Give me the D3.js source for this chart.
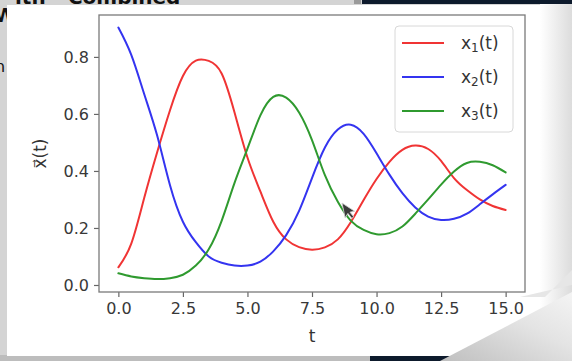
<!DOCTYPE html>
<html><head><meta charset="utf-8">
<script src="https://cdn.jsdelivr.net/npm/d3@7"></script>
<style>html,body{margin:0;padding:0;background:#d3d3d3;}svg{display:block;}</style>
</head><body>
<script>
// ---- data ----
const times = [0,0.5,1,1.5,2,2.5,3,3.5,4,4.5,5,5.5,6,6.5,7,7.5,8,8.5,9,9.5,10,10.5,11,11.5,12,12.5,13,13.5,14,14.5,15];
const x1 = [0.062,0.145,0.305,0.465,0.613,0.733,0.787,0.786,0.742,0.605,0.447,0.328,0.222,0.160,0.133,0.124,0.132,0.160,0.220,0.298,0.372,0.432,0.474,0.489,0.477,0.435,0.375,0.333,0.300,0.277,0.263];
const x2 = [0.903,0.807,0.670,0.525,0.350,0.222,0.150,0.100,0.078,0.068,0.068,0.082,0.118,0.175,0.260,0.375,0.482,0.545,0.562,0.530,0.462,0.387,0.322,0.272,0.240,0.228,0.232,0.250,0.283,0.318,0.351];
const x3 = [0.041,0.030,0.024,0.021,0.024,0.036,0.068,0.125,0.225,0.358,0.478,0.595,0.660,0.657,0.605,0.508,0.385,0.292,0.226,0.193,0.178,0.182,0.205,0.250,0.300,0.352,0.398,0.428,0.432,0.420,0.395];
const seriesNames = ["1","2","3"];
const seriesColors = ["#f03434","#3434f0","#2f9a2f"];
const xTicks = [0,2.5,5,7.5,10,12.5,15];
const yTicks = [0,0.2,0.4,0.6,0.8];
const xLabel = "t";
const yLabel = "x\u20D7(t)";

const W = 572, H = 361;
const svg = d3.select("body").append("svg").attr("width", W).attr("height", H);
const defs = svg.append("defs");

// ---- screenshot surroundings ----
svg.append("rect").attr("width", W).attr("height", H).attr("fill", "#d4d4d4");
svg.append("text").attr("x", 15).attr("y", 4).attr("font-family", "DejaVu Sans").attr("font-weight", "bold")
  .attr("font-size", 20).attr("fill", "#111").text("ith - Combined");
svg.append("text").attr("x", -6).attr("y", 22).attr("font-family", "DejaVu Sans").attr("font-weight", "bold")
  .attr("font-size", 20).attr("fill", "#111").text("W");
svg.append("text").attr("x", -5).attr("y", 72).attr("font-family", "DejaVu Sans")
  .attr("font-size", 16).attr("fill", "#111").text("n");
svg.append("rect").attr("x", 354).attr("y", 0).attr("width", 7).attr("height", 4).attr("fill", "#9a9a9a");
svg.append("rect").attr("x", 362).attr("y", 0).attr("width", 210).attr("height", 4).attr("fill", "#0d1a2c");
svg.append("rect").attr("x", 0).attr("y", 355).attr("width", W).attr("height", 6).attr("fill", "#bdbdbd");
svg.append("rect").attr("x", 370).attr("y", 356).attr("width", 80).attr("height", 5).attr("fill", "#0d1a2c");

const gR = defs.append("linearGradient").attr("id", "gr").attr("x1", "0").attr("x2", "1").attr("y1", "0").attr("y2", "0");
gR.append("stop").attr("offset", "0").attr("stop-color", "#ffffff");
gR.append("stop").attr("offset", "1").attr("stop-color", "#dcdcdc");
svg.append("rect").attr("x", 7).attr("y", 5).attr("width", 538).attr("height", 351).attr("fill", "#ffffff");
svg.append("rect").attr("x", 540).attr("y", 4).attr("width", 32).attr("height", 352).attr("fill", "url(#gr)");
const gB = defs.append("linearGradient").attr("id", "gb").attr("x1", "0").attr("x2", "1").attr("y1", "1").attr("y2", "0");
gB.append("stop").attr("offset", "0").attr("stop-color", "#bfbfbf");
gB.append("stop").attr("offset", "0.6").attr("stop-color", "#e4e4e4");
gB.append("stop").attr("offset", "1").attr("stop-color", "#f4f4f4");
svg.append("path").attr("d", "M440,361 L572,292 L572,361 Z").attr("fill", "url(#gb)");
svg.append("path").attr("d", "M520,297 L545,297 L572,270 L572,285 Z").attr("fill", "#e6e6e6");

// ---- plot ----
const L = 99, R = 525, T = 15, B = 292;
const x = d3.scaleLinear().domain([-0.75, 15.75]).range([L, R]);
const y = d3.scaleLinear().domain([-0.0246, 0.947]).range([B, T]);

const font = "DejaVu Sans";
const xAxis = svg.append("g").attr("transform", `translate(0,${B})`)
  .call(d3.axisBottom(x).tickValues(xTicks).tickFormat(d3.format(".1f")).tickSizeOuter(0).tickSize(5).tickPadding(6));
const yAxis = svg.append("g").attr("transform", `translate(${L},0)`)
  .call(d3.axisLeft(y).tickValues(yTicks).tickFormat(d3.format(".1f")).tickSizeOuter(0).tickSize(5).tickPadding(5));
[xAxis, yAxis].forEach(a => {
  a.select(".domain").remove();
  a.selectAll(".tick line").attr("stroke", "#666").attr("stroke-width", 1.2);
  a.selectAll(".tick text").attr("font-family", font).attr("font-size", 16).attr("fill", "#383838");
});

const series = [x1, x2, x3];
const line = d3.line().x((d, i) => x(times[i])).y(d => y(d)).curve(d3.curveNatural);
series.forEach((s, k) => {
  svg.append("path").datum(s).attr("d", line).attr("fill", "none")
    .attr("stroke", seriesColors[k]).attr("stroke-width", 2).attr("stroke-linecap", "round");
});

svg.append("rect").attr("x", L).attr("y", T).attr("width", R - L).attr("height", B - T)
  .attr("fill", "none").attr("stroke", "#7a7a7a").attr("stroke-width", 1.3);

svg.append("text").attr("x", (L + R) / 2).attr("y", 342).attr("text-anchor", "middle")
  .attr("font-family", font).attr("font-size", 17).attr("fill", "#333").text(xLabel);
svg.append("text").attr("transform", `translate(46,${(T + B) / 2}) rotate(-90)`).attr("text-anchor", "middle")
  .attr("font-family", font).attr("font-size", 17).attr("fill", "#333").text(yLabel);

// ---- legend ----
const lg = svg.append("g");
lg.append("rect").attr("x", 395).attr("y", 26).attr("width", 118).attr("height", 106).attr("rx", 4)
  .attr("fill", "#fff").attr("fill-opacity", 0.85).attr("stroke", "#d8d8d8").attr("stroke-width", 1);
seriesNames.forEach((n, k) => {
  const cy = 43 + k * 34;
  lg.append("line").attr("x1", 402).attr("x2", 444).attr("y1", cy).attr("y2", cy)
    .attr("stroke", seriesColors[k]).attr("stroke-width", 2);
  const t = lg.append("text").attr("x", 461).attr("y", cy + 6).attr("font-family", font)
    .attr("font-size", 17).attr("fill", "#333");
  t.append("tspan").text("x");
  t.append("tspan").attr("font-size", 12).attr("dy", 3).text(n);
  t.append("tspan").attr("dy", -3).text("(t)");
});

// ---- mouse cursor ----
svg.append("path").attr("transform", "translate(342,203) rotate(-12)")
  .attr("d", "M0,0 L0,15 L3.6,11.4 L6.4,17 L8.6,16 L5.9,10.6 L10.6,10.6 Z")
  .attr("fill", "#3a3a3a").attr("stroke", "#cfcfcf").attr("stroke-width", 0.8);
</script>
</body></html>
